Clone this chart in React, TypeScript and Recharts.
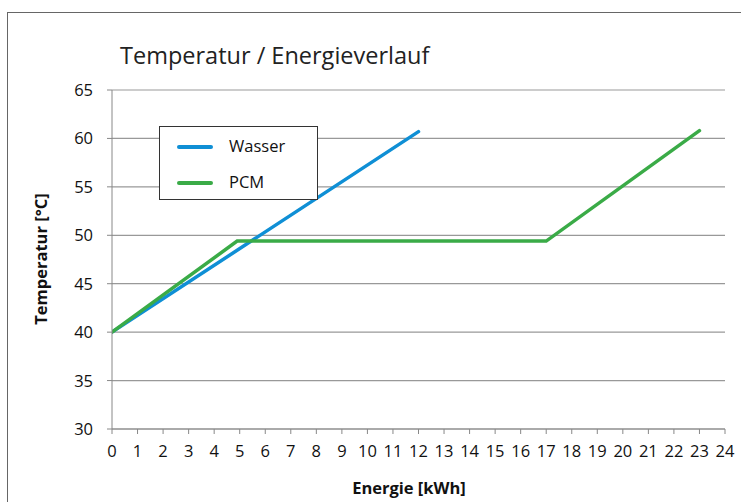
import React from 'react';
import { LineChart, Line, XAxis, YAxis, CartesianGrid, Customized } from 'recharts';

const xTicks = [0,1,2,3,4,5,6,7,8,9,10,11,12,13,14,15,16,17,18,19,20,21,22,23,24];
const yTicks = [30,35,40,45,50,55,60,65];

const wasserEnergie = [0, 12];
const wasserTemp = [40, 60.7];
const pcmEnergie = [0, 4.9, 17, 23];
const pcmTemp = [40, 49.4, 49.4, 60.8];

const wasserData = wasserEnergie.map((e, i) => ({ e, t: wasserTemp[i] }));
const pcmData = pcmEnergie.map((e, i) => ({ e, t: pcmTemp[i] }));

const BLUE = '#0f8fd5';
const GREEN = '#3aab47';
const FONT = '"Open Sans", sans-serif';

const legendItems = [{ n: 'Wasser', c: BLUE, y: 20 }, { n: 'PCM', c: GREEN, y: 56 }];

const LegendBox = () => (
  <div style={{ position: 'absolute', left: 159, top: 126, width: 159, height: 74, border: '1px solid #333', background: '#fff', boxSizing: 'border-box', fontFamily: FONT, fontSize: 16.5, color: '#111' }}>
    {legendItems.map((d) => (
      <div key={d.n}>
        <div style={{ position: 'absolute', left: 17, top: d.y - 2, width: 36, height: 4, borderRadius: 2, background: d.c }} />
        <div style={{ position: 'absolute', left: 69, top: d.y - 12, lineHeight: '22px' }}>{d.n}</div>
      </div>
    ))}
  </div>
);

const Texts = () => (
  <g>
    <text x={120} y={64} fontSize={23.5} fontFamily={FONT} fill="#222">Temperatur / Energieverlauf</text>
    <text x={40} y={259} fontSize={16.5} fontWeight="bold" fontFamily={FONT} fill="#111" textAnchor="middle" dominantBaseline="central" transform="rotate(-90 40 259)">Temperatur [°C]</text>
    <text x={409} y={487} fontSize={16.5} fontWeight="bold" fontFamily={FONT} fill="#111" textAnchor="middle" dominantBaseline="central">Energie [kWh]</text>
  </g>
);

const XTick = (p: any) => (
  <text x={p.x} y={p.y} dy={12} textAnchor="middle" fontSize={16.5} fontFamily={FONT} fill="#111">{p.payload.value}</text>
);
const YTick = (p: any) => (
  <text x={p.x} y={p.y} dy={6} textAnchor="end" fontSize={16.5} fontFamily={FONT} fill="#111">{p.payload.value}</text>
);

export default function App() {
  return (
    <div style={{ position: 'absolute', left: 0, top: 0, width: 741, height: 502, background: '#fff', overflow: 'hidden' }}>
      <div style={{ position: 'absolute', left: 7, top: 12, width: 760, height: 520, border: '1.5px solid #666', boxSizing: 'border-box' }} />
      <div style={{ position: 'absolute', left: 0, top: 0 }}>
        <LineChart width={741} height={502} margin={{ top: 90, right: 16, bottom: 43, left: 52 }}>
          <CartesianGrid horizontal vertical={false} stroke="#999" strokeWidth={1.2} />
          <XAxis type="number" dataKey="e" domain={[0, 24]} ticks={xTicks} interval={0} allowDataOverflow
            height={30} tickSize={5} tickMargin={11} stroke="#888" tick={XTick} />
          <YAxis type="number" dataKey="t" domain={[30, 65]} ticks={yTicks} interval={0} allowDataOverflow
            width={60} tickSize={5} tickMargin={14} stroke="#888" tick={YTick} />
          <Line data={wasserData} dataKey="t" name="Wasser" stroke={BLUE} strokeWidth={3.5} dot={false} strokeLinecap="round" isAnimationActive={false} />
          <Line data={pcmData} dataKey="t" name="PCM" stroke={GREEN} strokeWidth={3.5} dot={false} strokeLinecap="round" isAnimationActive={false} />
          <Customized component={Texts} />
        </LineChart>
      </div>
      <LegendBox />
    </div>
  );
}
